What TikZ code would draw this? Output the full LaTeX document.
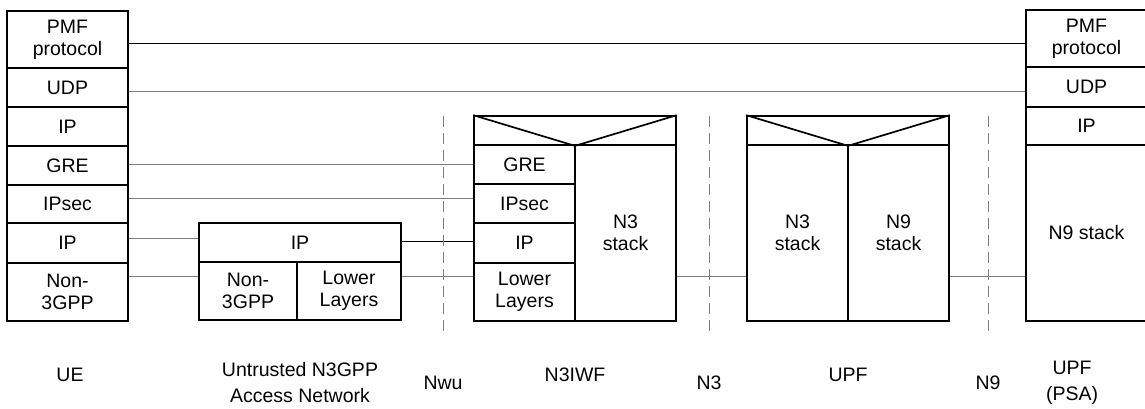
\documentclass[tikz,border=0pt]{standalone}
\usepackage{fontspec}
\setmainfont{Liberation Sans}
\usetikzlibrary{calc}
\definecolor{lgray}{RGB}{125,125,125}
\newcommand{\boxfont}{\fontsize{19.5}{22}\selectfont}
\newcommand{\lblfont}{\fontsize{19.5}{26}\selectfont}
\tikzset{
  cell/.style={draw, line width=1.7pt, inner sep=0pt, align=center, font=\boxfont},
  link/.style={draw=lgray, line width=0.9pt},
  blink/.style={draw=black, line width=0.9pt},
  sep/.style={draw=lgray, line width=0.9pt, dash pattern=on 11pt off 6pt},
  lbl/.style={inner sep=0pt, align=center, font=\lblfont}
}
\begin{document}
\begin{tikzpicture}[x=1pt, y=-1pt]
\useasboundingbox (0,0) rectangle (1145,409);
% UE stack
\node[cell, minimum width=121, minimum height=57] (uepmf) at (67.5,39.5) {PMF\\protocol};
\node[cell, minimum width=121, minimum height=39] (ueudp) at (67.5,87.5) {UDP};
\node[cell, minimum width=121, minimum height=39] (ueipa) at (67.5,126.5) {IP};
\node[cell, minimum width=121, minimum height=39] (uegre) at (67.5,165.5) {GRE};
\node[cell, minimum width=121, minimum height=38] (ueipsec) at (67.5,204) {IPsec};
\node[cell, minimum width=121, minimum height=40] (ueipb) at (67.5,243) {IP};
\node[cell, minimum width=121, minimum height=58] (uenon) at (67.5,292) {Non-\\3GPP};
% Untrusted access network
\node[cell, minimum width=202, minimum height=39] (anip) at (300,242.5) {IP};
\node[cell, minimum width=98, minimum height=58] (annon) at (248,291) {Non-\\3GPP};
\node[cell, minimum width=104, minimum height=58] (anll) at (349,291) {Lower\\Layers};
% N3IWF
\node[cell, minimum width=202, minimum height=29] (nhdr) at (575,130.5) {};
\draw[line width=1.7pt] (nhdr.north west) -- (nhdr.south) -- (nhdr.north east);
\node[cell, minimum width=101, minimum height=39] (ngre) at (524.5,164.5) {GRE};
\node[cell, minimum width=101, minimum height=39] (nipsec) at (524.5,203.5) {IPsec};
\node[cell, minimum width=101, minimum height=40] (nip) at (524.5,243) {IP};
\node[cell, minimum width=101, minimum height=58] (nll) at (524.5,292) {Lower\\Layers};
\node[cell, minimum width=101, minimum height=176] (nstack) at (625.5,233) {N3\\stack};
% UPF
\node[cell, minimum width=202, minimum height=29] (uhdr) at (848,130.5) {};
\draw[line width=1.7pt] (uhdr.north west) -- (uhdr.south) -- (uhdr.north east);
\node[cell, minimum width=101, minimum height=176] (un3) at (797.5,233) {N3\\stack};
\node[cell, minimum width=101, minimum height=176] (un9) at (898.5,233) {N9\\stack};
% UPF (PSA)
\node[cell, minimum width=121, minimum height=57] (ppmf) at (1086.5,38.5) {PMF\\protocol};
\node[cell, minimum width=121, minimum height=40] (pudp) at (1086.5,87) {UDP};
\node[cell, minimum width=121, minimum height=38] (pip) at (1086.5,126) {IP};
\node[cell, minimum width=121, minimum height=176] (pn9) at (1086.5,233) {N9 stack};
% peer links
\draw[blink] (uepmf.east |- 0,43) -- (ppmf.west |- 0,43);
\draw[link] (ueudp.east |- 0,91) -- (pudp.west |- 0,91);
\draw[link] (uegre.east |- 0,164.5) -- (ngre.west |- 0,164.5);
\draw[link] (ueipsec.east |- 0,198.5) -- (nipsec.west |- 0,198.5);
\draw[link] (ueipb.east |- 0,238) -- (anip.west |- 0,238);
\draw[link] (uenon.east |- 0,276.5) -- (annon.west |- 0,276.5);
\draw[blink] (anip.east |- 0,241.5) -- (nip.west |- 0,241.5);
\draw[link] (anll.east |- 0,276.5) -- (nll.west |- 0,276.5);
\draw[link] (nstack.east |- 0,276.5) -- (un3.west |- 0,276.5);
\draw[link] (un9.east |- 0,276.5) -- (pn9.west |- 0,276.5);
% reference point separators
\coordinate (s1t) at (443,116); \coordinate (s1b) at (443,334);
\coordinate (s2t) at (709,116); \coordinate (s2b) at (709,334);
\coordinate (s3t) at (988,116); \coordinate (s3b) at (988,334);
\draw[sep] (s1t) -- (s1b);
\draw[sep] (s2t) -- (s2b);
\draw[sep] (s3t) -- (s3b);
% labels
\node[lbl] (lue) at (70,375) {UE};
\node[lbl] (lan) at (300,383) {Untrusted N3GPP\\Access Network};
\node[lbl] (lnwu) at (443,383) {Nwu};
\node[lbl] (ln3iwf) at (575,375) {N3IWF};
\node[lbl] (ln3) at (709,383) {N3};
\node[lbl] (lupf) at (848,375) {UPF};
\node[lbl] (ln9) at (988,383) {N9};
\node[lbl] (lpsa) at (1072,383) {UPF\\(PSA)};
\end{tikzpicture}
\end{document}
